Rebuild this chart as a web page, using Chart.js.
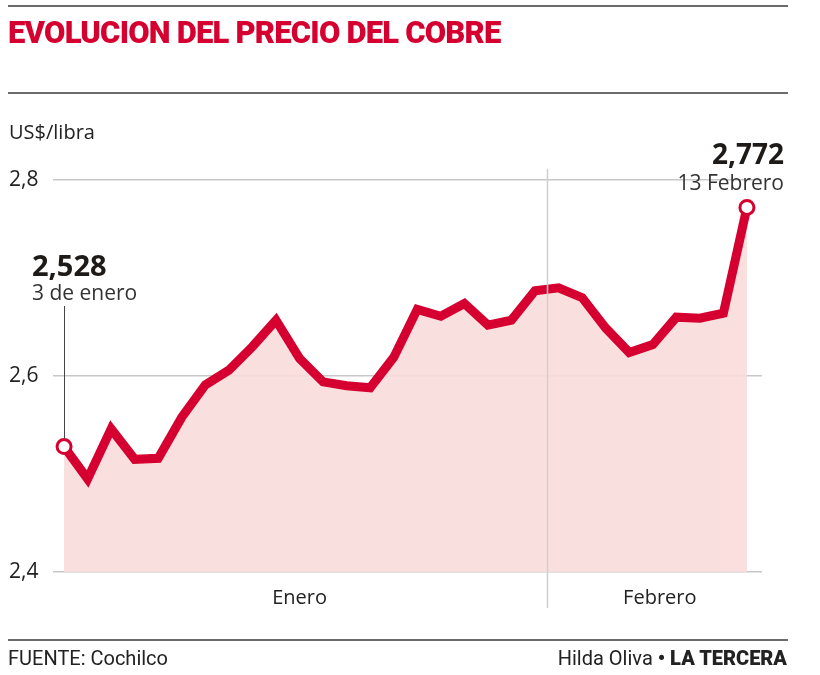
<!DOCTYPE html>
<html>
<head>
<meta charset="utf-8">
<script src="https://cdn.jsdelivr.net/npm/chart.js@4"></script>
<style>
  html, body { margin: 0; padding: 0; background: #fff; }
  #wrap { position: relative; width: 820px; height: 675px; overflow: hidden; }
  #priceChart { position: absolute; left: 0; top: 0; }
  .rule { position: absolute; left: 8px; width: 780px; height: 2px; background: #6b6b6b; }
  #title {
    position: absolute; left: 8px; top: 14px; margin: 0;
    font-family: "Roboto", sans-serif; font-weight: 900;
    font-size: 31px; color: #d5002f; letter-spacing: -0.8px; white-space: nowrap;
  }
  .foot { position: absolute; top: 646px; font-family: "Roboto", sans-serif; font-size: 20px; color: #222; white-space: nowrap; }
  .foot b { font-weight: 900; }
</style>
</head>
<body>
<div id="wrap">
  <canvas id="priceChart" width="820" height="675"></canvas>
  <div class="rule" style="top:5px"></div>
  <h1 id="title">EVOLUCION DEL PRECIO DEL COBRE</h1>
  <div class="rule" style="top:92px"></div>
  <div class="rule" style="top:639px; height:1.5px"></div>
  <div class="foot" style="left:8px">FUENTE: Cochilco</div>
  <div class="foot" style="right:33px">Hilda Oliva <b>• LA TERCERA</b></div>
</div>
<script>
// trading days, 3 de enero – 13 de febrero
const days = [
  "3 ene", "4 ene", "5 ene", "6 ene", "9 ene", "10 ene", "11 ene", "12 ene", "13 ene",
  "16 ene", "17 ene", "18 ene", "19 ene", "20 ene", "23 ene", "24 ene", "25 ene",
  "26 ene", "27 ene", "30 ene", "31 ene",
  "1 feb", "2 feb", "3 feb", "6 feb", "7 feb", "8 feb", "9 feb", "10 feb", "13 feb"
];
const prices = [
  2.528, 2.495, 2.546, 2.515, 2.516, 2.558, 2.591, 2.606, 2.630,
  2.657, 2.618, 2.594, 2.590, 2.588, 2.619, 2.668, 2.661,
  2.674, 2.652, 2.657, 2.687,
  2.690, 2.680, 2.649, 2.624, 2.632, 2.660, 2.659, 2.664, 2.772
];
const yTicks = [2.4, 2.6, 2.8];
const months = ["Enero", "Febrero"];
const monthCenters = [10, 25.3];
const monthBreak = 20.5;
const firstNote = "3 de enero";
const lastNote = "13 Febrero";

const RED = "#d5002f";
const fmt = (v, d) => v.toFixed(d).replace(".", ",");

const annotate = {
  id: "annotate",
  afterDatasetsDraw(chart) {
    const { ctx, chartArea, scales } = chart;
    const x = scales.x;
    const pts = chart.getDatasetMeta(0).data;
    ctx.save();
    // month separator
    const bx = Math.round(x.getPixelForValue(monthBreak)) + 0.5;
    ctx.strokeStyle = "#cfcfcf";
    ctx.lineWidth = 1.5;
    ctx.beginPath();
    ctx.moveTo(bx, chartArea.top - 11);
    ctx.lineTo(bx, chartArea.bottom + 36);
    ctx.stroke();
    // month labels
    ctx.fillStyle = "#222";
    ctx.font = "20px 'Open Sans', sans-serif";
    ctx.textAlign = "center";
    ctx.textBaseline = "alphabetic";
    months.forEach((m, i) => ctx.fillText(m, x.getPixelForValue(monthCenters[i]), chartArea.bottom + 32));
    // unit label
    ctx.textAlign = "left";
    ctx.fillText("US$/libra", 9, 139);
    // first point note
    const p0 = pts[0];
    ctx.strokeStyle = "#444";
    ctx.lineWidth = 1;
    ctx.beginPath();
    ctx.moveTo(Math.round(p0.x) + 0.5, 306);
    ctx.lineTo(Math.round(p0.x) + 0.5, p0.y - 8);
    ctx.stroke();
    ctx.fillStyle = "#1e1a17";
    ctx.font = "bold 29px 'Open Sans', sans-serif";
    ctx.fillText(fmt(prices[0], 3), 32, 276);
    ctx.fillStyle = "#333";
    ctx.font = "21px 'Open Sans', sans-serif";
    ctx.fillText(firstNote, 32, 300);
    // last point note
    ctx.textAlign = "right";
    ctx.fillStyle = "#1e1a17";
    ctx.font = "bold 28px 'Open Sans', sans-serif";
    ctx.fillText(fmt(prices[prices.length - 1], 3), 784, 164);
    ctx.fillStyle = "#333";
    ctx.font = "21px 'Open Sans', sans-serif";
    ctx.fillText(lastNote, 784, 190);
    ctx.restore();
  }
};

new Chart(document.getElementById("priceChart"), {
  type: "line",
  data: {
    labels: days,
    datasets: [{
      data: prices.map((v, i) => ({ x: i, y: v })),
      borderColor: RED,
      borderWidth: 9,
      borderJoinStyle: "miter",
      borderCapStyle: "butt",
      tension: 0,
      fill: "start",
      backgroundColor: "rgba(248, 220, 218, 0.9)",
      clip: false,
      pointRadius: prices.map((v, i) => (i === 0 || i === prices.length - 1 ? 7 : 0)),
      pointBackgroundColor: "#fff",
      pointBorderColor: RED,
      pointBorderWidth: 3
    }]
  },
  options: {
    responsive: false,
    animation: false,
    events: [],
    layout: { padding: { left: 9, right: 58, top: 180, bottom: 103 } },
    plugins: { legend: { display: false }, tooltip: { enabled: false } },
    scales: {
      x: {
        type: "linear",
        min: -0.47,
        max: 29.64,
        display: false
      },
      y: {
        min: 2.4,
        max: 2.8,
        afterBuildTicks: (scale) => { scale.ticks = yTicks.map((v) => ({ value: v })); },
        afterFit: (scale) => { scale.width = 44; },
        border: { display: false },
        grid: { color: "#c8c8c8", lineWidth: 1.5, drawTicks: false },
        ticks: {
          crossAlign: "far",
          padding: 0,
          color: "#222",
          font: { family: "'Open Sans', sans-serif", size: 21 },
          callback: (v) => fmt(v, 1)
        }
      }
    }
  },
  plugins: [annotate]
});
</script>
</body>
</html>
